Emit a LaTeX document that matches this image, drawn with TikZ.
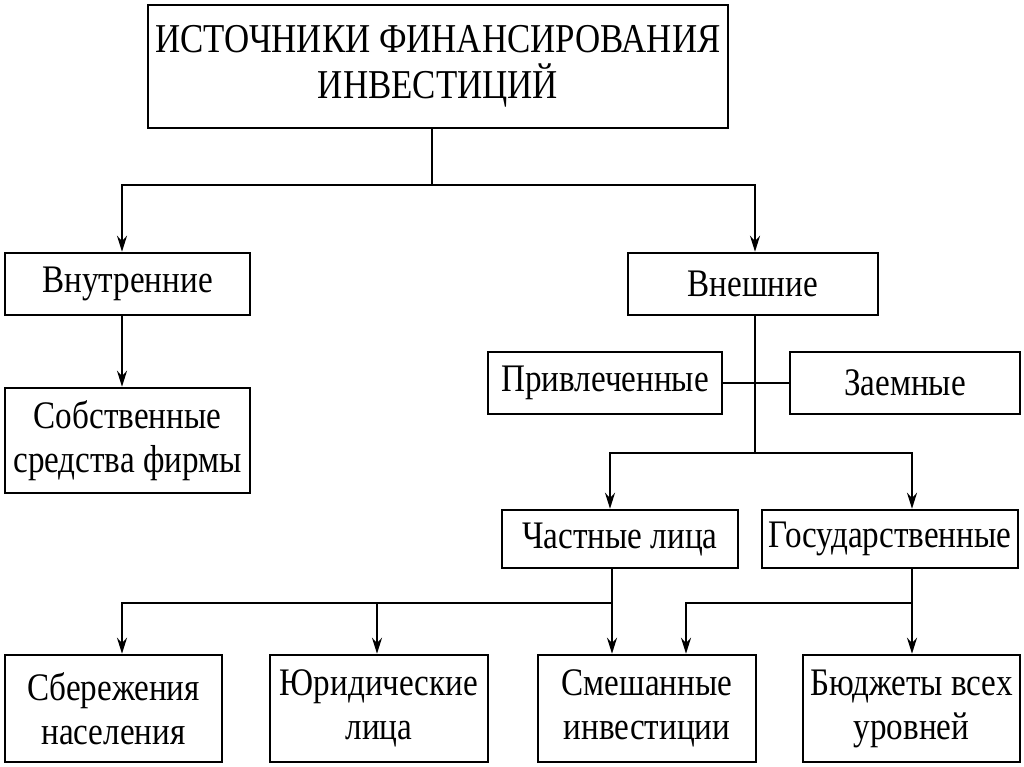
\documentclass[tikz,border=0pt]{standalone}
\usepackage{fontspec}
\setmainfont{Liberation Serif}[FakeStretch=0.85]
\usetikzlibrary{arrows.meta}
\begin{document}
\begin{tikzpicture}[x=1pt,y=-1pt,
  box/.style={draw, line width=2.5pt, inner sep=0pt, align=center,
    font=\fontsize{39}{44}\selectfont},
  conn/.style={line width=2pt},
  arr/.style={conn,-{Stealth[length=16pt,width=10pt]}}]
\useasboundingbox[fill=white] (0,0) rectangle (1024,767);
\node[box, minimum width=580pt, minimum height=123pt, font=\fontsize{41}{46}\selectfont] (title) at (438,66.5) {ИСТОЧНИКИ ФИНАНСИРОВАНИЯ\\ИНВЕСТИЦИЙ};
\node[box, minimum width=245pt, minimum height=62pt] (vnutr) at (127.5,284) {Внутренние};
\node[box, minimum width=250pt, minimum height=62pt] (vnesh) at (753,284) {Внешние};
\node[box, minimum width=245pt, minimum height=105pt] (sobst) at (127.5,440.5) {Собственные\\средства фирмы};
\node[box, minimum width=234pt, minimum height=62pt] (privl) at (605,383) {Привлеченные};
\node[box, minimum width=230pt, minimum height=62pt] (zaem) at (905,383) {Заемные};
\node[box, minimum width=236pt, minimum height=58pt] (chast) at (620,539) {Частные лица};
\node[box, minimum width=256pt, minimum height=58pt] (gos) at (890,539) {Государственные};
\node[box, minimum width=217pt, minimum height=107pt] (sber) at (113.5,708.5) {Сбережения\\населения};
\node[box, minimum width=218pt, minimum height=107pt] (yur) at (379,708.5) {Юридические\\лица};
\node[box, minimum width=218pt, minimum height=107pt] (smesh) at (647,708.5) {Смешанные\\инвестиции};
\node[box, minimum width=217pt, minimum height=107pt] (budg) at (911.5,708.5) {Бюджеты всех\\уровней};
% top split
\coordinate (j1) at (432,185);
\draw[conn] (title.south -| j1) -- (j1);
\draw[arr] (j1) -| ([xshift=-5.5pt]vnutr.north);
\draw[arr] (j1) -| ([xshift=2pt]vnesh.north);
\draw[arr] ([xshift=-5.5pt]vnutr.south) -- ([xshift=-5.5pt]sobst.north);
% external
\coordinate (j2) at (755,453);
\draw[conn] ([xshift=2pt]vnesh.south) -- (j2);
\draw[conn] (privl.east) -- (zaem.west);
\draw[arr] (j2) -| ([xshift=-10pt]chast.north);
\draw[arr] (j2) -| ([xshift=22pt]gos.north);
% private
\coordinate (j3) at (612,603);
\draw[conn] ([xshift=-8pt]chast.south) -- (j3);
\draw[arr] (j3) -| ([xshift=8.5pt]sber.north);
\draw[arr] (j3) -| ([xshift=-2pt]yur.north);
\draw[arr] (j3) -- ([xshift=-35pt]smesh.north);
% state
\coordinate (j4) at (912,603);
\draw[conn] ([xshift=22pt]gos.south) -- (j4);
\draw[arr] (j4) -| ([xshift=39pt]smesh.north);
\draw[arr] (j4) -- ([xshift=0.5pt]budg.north);
\end{tikzpicture}
\end{document}
